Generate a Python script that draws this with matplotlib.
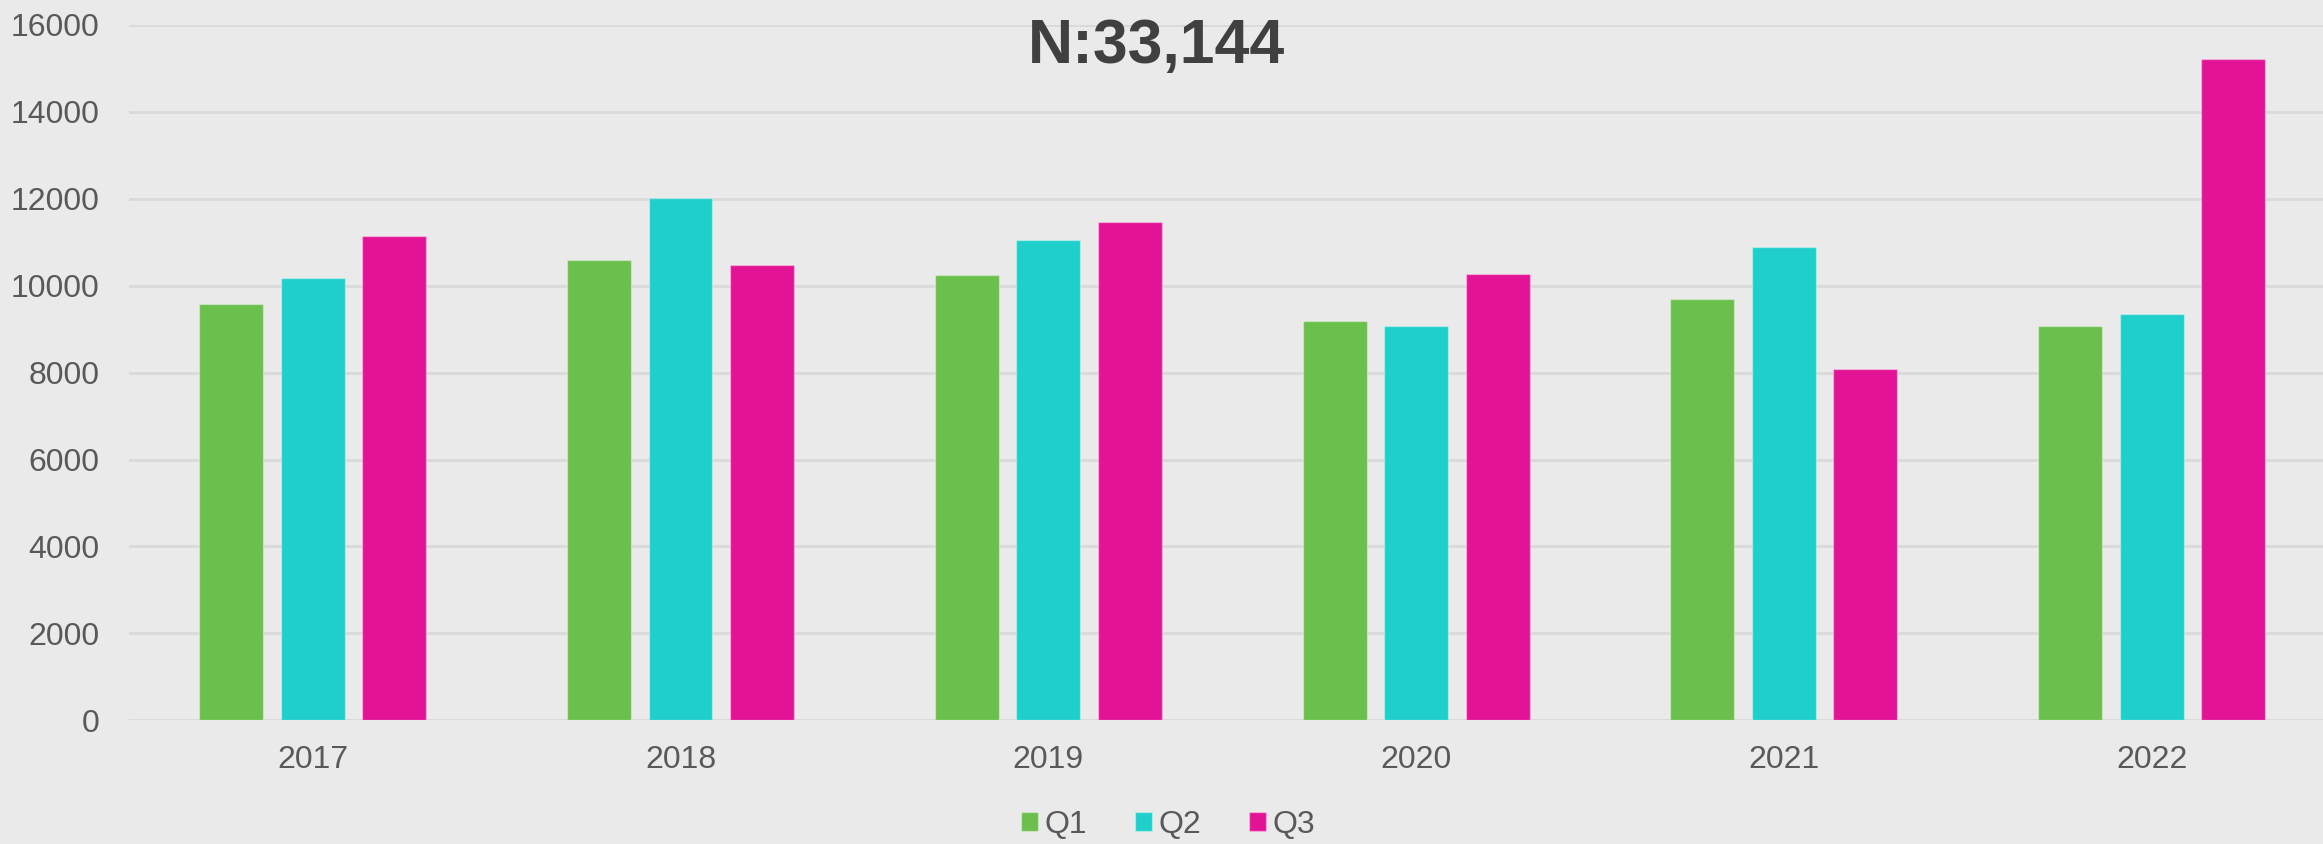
import matplotlib
matplotlib.use("Agg")
import matplotlib.pyplot as plt
import numpy as np

years = ["2017", "2018", "2019", "2020", "2021", "2022"]
series_names = ["Q1", "Q2", "Q3"]
q1 = [9570, 10590, 10250, 9195, 9687, 9074]
q2 = [10167, 12023, 11058, 9064, 10883, 9349]
q3 = [11142, 10474, 11457, 10276, 8085, 15228]
colors = ["#6BBF4C", "#1ECFCB", "#E31396"]
title_text = "N:33,144"

plt.rcParams['font.family'] = ['Liberation Sans', 'DejaVu Sans']

fig = plt.figure(figsize=(23.23, 8.44), dpi=100)
fig.patch.set_facecolor("#EAEAEA")
ax = fig.add_axes([128.8 / 2323, 123.8 / 844, 6 * 367.8 / 2323, 695.2 / 844])
ax.set_facecolor("#EAEAEA")

x = np.arange(len(years))
offset = 0.2216
width = 0.174
for i, (vals, name, c) in enumerate(zip([q1, q2, q3], series_names, colors)):
    ax.bar(x + (i - 1) * offset, vals, width=width, color=c, label=name,
           edgecolor=(1, 1, 1, 0.35), linewidth=1.0, zorder=3)

ax.set_xlim(-0.5, len(years) - 0.5)
ax.set_ylim(0, 16000)
ax.set_yticks(np.arange(0, 16001, 2000))
ax.set_xticks(x)
ax.set_xticklabels(years)
ax.grid(axis="y", color="#D9D9D9", linewidth=2, zorder=0)
ax.set_axisbelow(True)
for s in ax.spines.values():
    s.set_visible(False)
ax.tick_params(axis="both", length=0, labelsize=23, colors="#595959")
ax.tick_params(axis="x", pad=18)
ax.tick_params(axis="y", pad=21)

fig.text(1157 / 2323, 1 - 63.3 / 844, title_text, ha="center", va="baseline",
         fontsize=45, fontweight="bold", color="#404040")

leg = fig.legend(loc="center", bbox_to_anchor=(1168 / 2323, 19 / 844), ncol=3, frameon=False,
                 fontsize=23, handlelength=0.53, handleheight=0.53, handletextpad=0.2,
                 columnspacing=1.5, borderaxespad=0, borderpad=0)
for t in leg.get_texts():
    t.set_color("#595959")

fig.savefig("out.png", dpi=100, facecolor=fig.get_facecolor())
